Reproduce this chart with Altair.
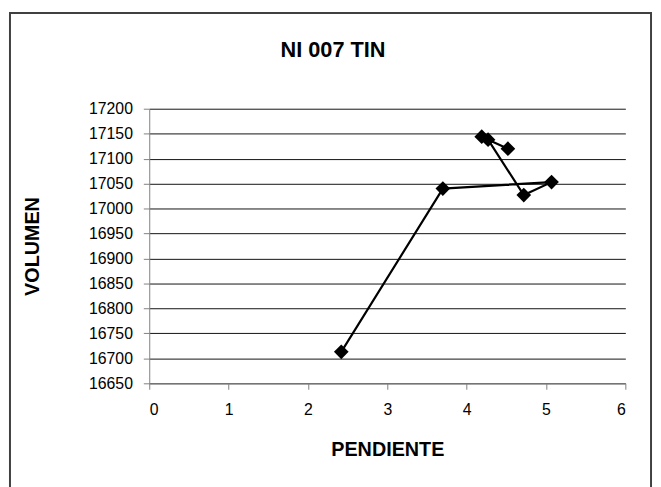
import altair as alt
import pandas as pd

# Data
pendiente = [2.42, 3.70, 5.07, 4.72, 4.27, 4.19, 4.52]
volumen = [16713, 17040, 17053, 17027, 17138, 17144, 17120]
orden = [0, 1, 2, 3, 4, 5, 6]

x_ticks = [0, 1, 2, 3, 4, 5, 6]
y_ticks = [16650, 16700, 16750, 16800, 16850, 16900, 16950, 17000,
           17050, 17100, 17150, 17200]

chart_title = "NI 007 TIN"
x_title = "PENDIENTE"
y_title = "VOLUMEN"

FONT = "Liberation Sans"

df = pd.DataFrame({"pendiente": pendiente, "volumen": volumen, "orden": orden})

W, H = 482, 278

base = alt.Chart(df).encode(
    x=alt.X(
        "pendiente:Q",
        scale=alt.Scale(domain=[0, 6], nice=False, zero=False),
        axis=alt.Axis(
            values=x_ticks, format="d", grid=False,
            domainColor="#808080", domainWidth=1,
            tickColor="#808080", tickSize=6, tickWidth=1,
            labelFont=FONT, labelFontSize=16, labelColor="black", labelPadding=13,
            title=x_title, titleFont=FONT, titleFontSize=20, titleFontWeight="bold",
            titleColor="black", titleX=W / 2, titleY=67, titleAlign="center",
            titleBaseline="middle",
        ),
    ),
    y=alt.Y(
        "volumen:Q",
        scale=alt.Scale(domain=[16650, 17200], nice=False, zero=False),
        axis=alt.Axis(
            values=y_ticks, format="d", grid=True,
            gridColor="#111111", gridWidth=1,
            domainColor="#808080", domainWidth=1,
            tickColor="#808080", tickSize=6, tickWidth=1,
            labelFont=FONT, labelFontSize=16, labelColor="black", labelPadding=11,
            title=y_title, titleFont=FONT, titleFontSize=20, titleFontWeight="bold",
            titleColor="black", titleAngle=270, titleX=-118, titleY=H / 2,
            titleAlign="center", titleBaseline="middle",
        ),
    ),
    order=alt.Order("orden:Q"),
)

line = base.mark_line(color="black", strokeWidth=2.2)
points = base.mark_point(shape="diamond", filled=True, color="black", size=220, opacity=1)

frame = alt.Chart(pd.DataFrame({"k": [0]})).mark_rect(
    fillOpacity=0, stroke="#404040", strokeWidth=2
).encode(
    x=alt.value(-141), x2=alt.value(508), y=alt.value(-97), y2=alt.value(420)
)

title = alt.Chart(pd.DataFrame({"t": [chart_title]})).mark_text(
    font=FONT, fontSize=22, fontWeight="bold", color="black",
    align="center", baseline="middle"
).encode(
    x=alt.value(186), y=alt.value(-59), text="t:N"
)

chart = alt.layer(frame, line, points, title).properties(
    width=W, height=H,
    autosize=alt.AutoSizeParams(type="none"),
    padding={"left": 143, "top": 99, "right": 28, "bottom": 102},
    background="white",
).configure_view(strokeWidth=0)

chart.save("out.html", embed_options={"renderer": "svg", "actions": False})
